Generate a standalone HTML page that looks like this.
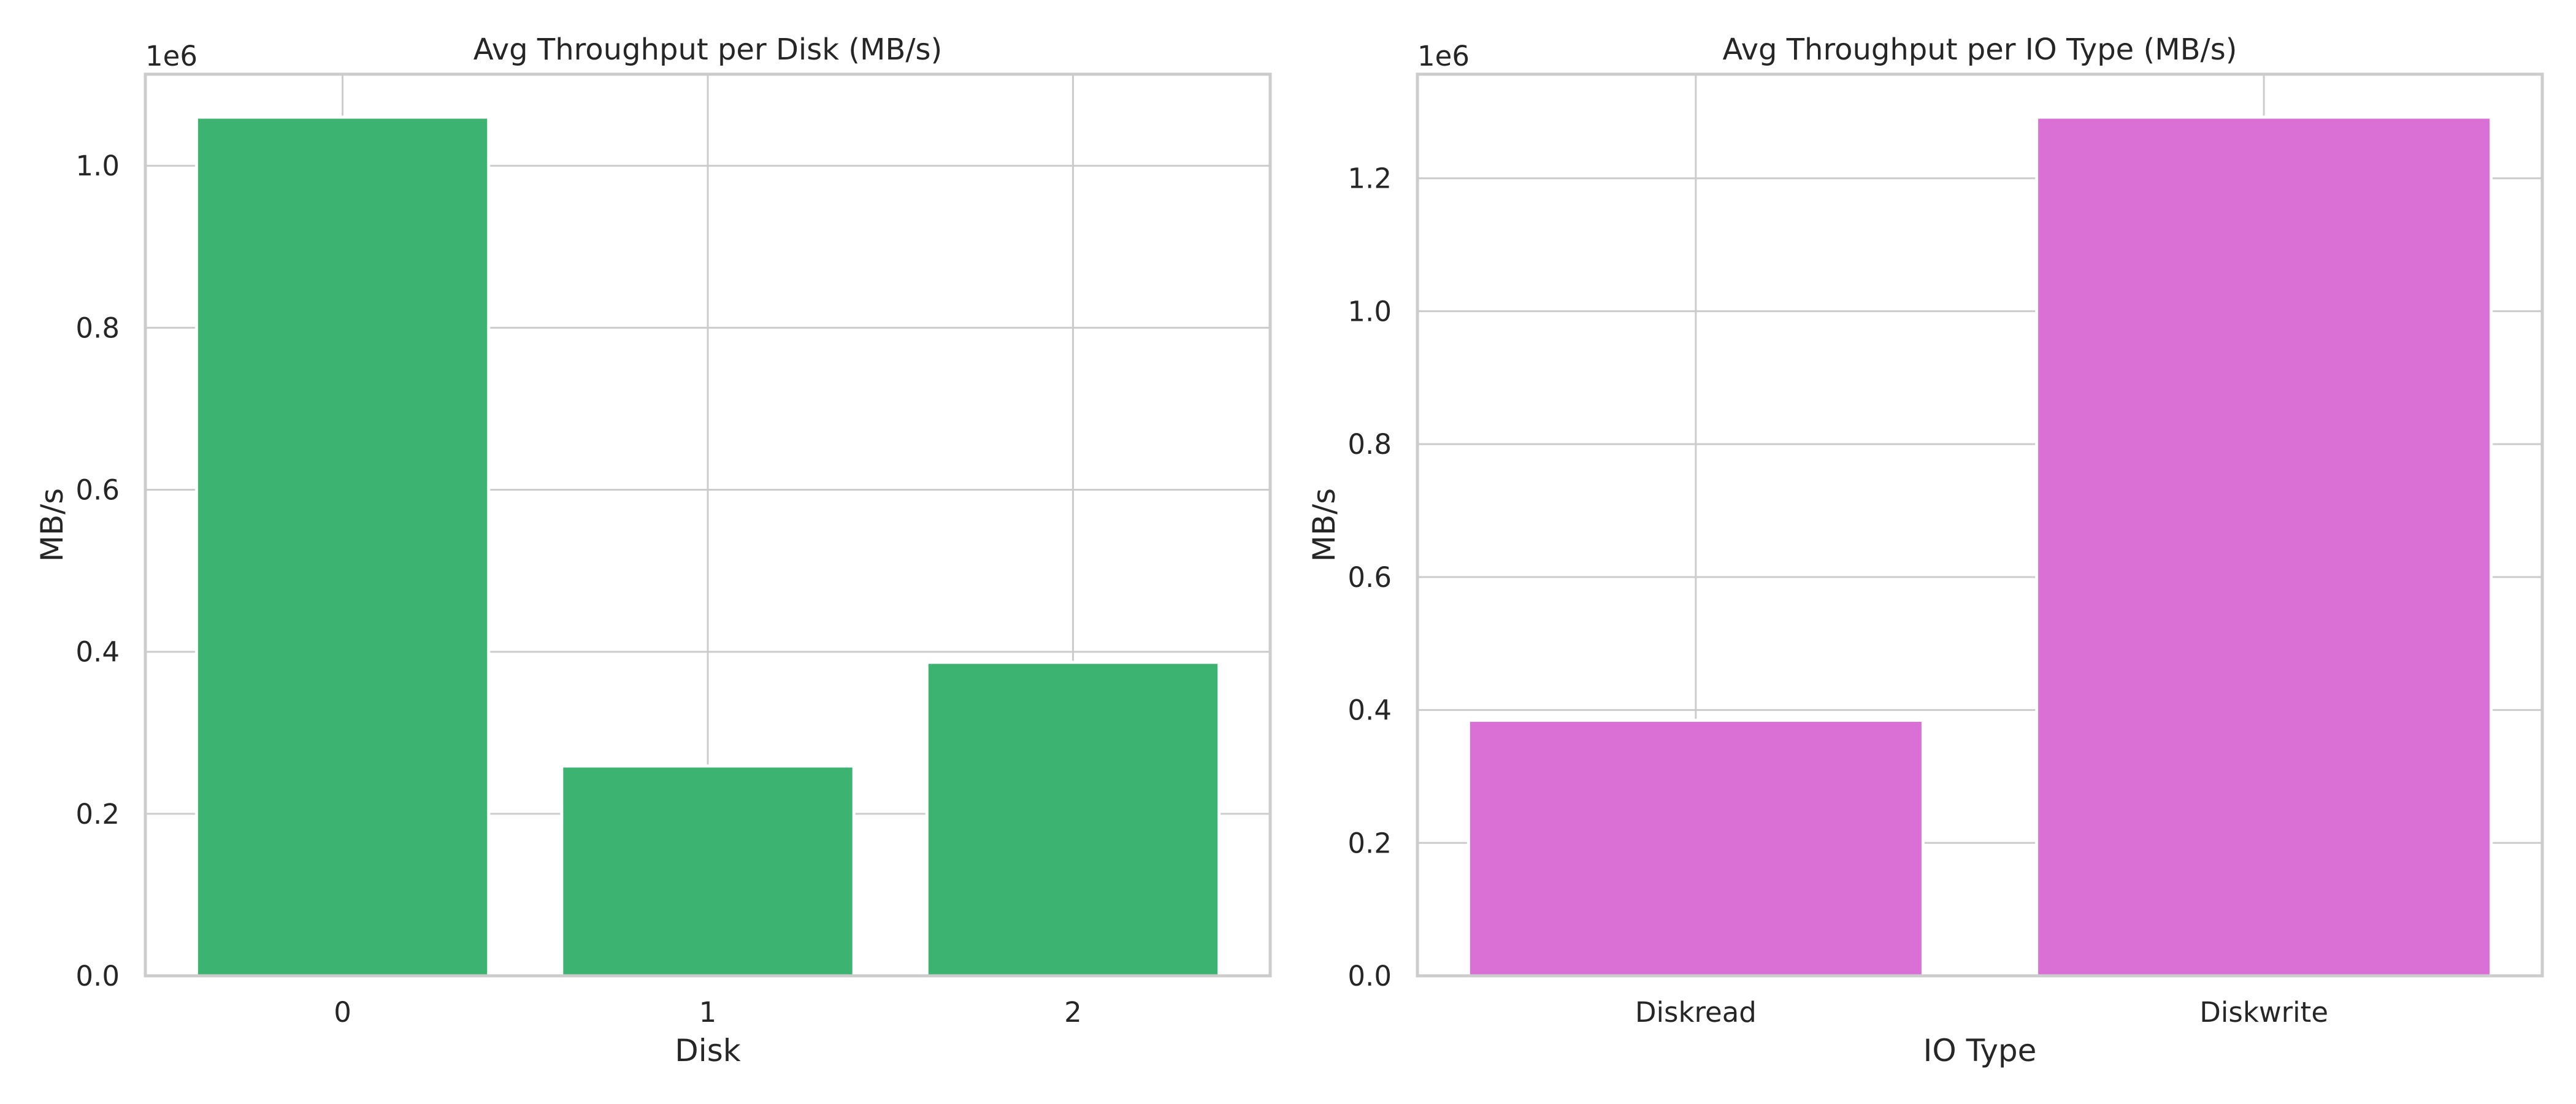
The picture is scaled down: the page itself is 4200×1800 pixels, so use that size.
<!DOCTYPE html>
<html><head><meta charset="utf-8"><style>
html,body{margin:0;padding:0;background:#fff}
svg{display:block}
text{font-family:"DejaVu Sans","Liberation Sans",sans-serif;fill:#262626}
</style></head><body>
<svg id="fig" width="4200" height="1800" viewBox="0 0 4200 1800" xmlns="http://www.w3.org/2000/svg"></svg>
<script>
const diskCategories = ["0","1","2"];
const diskValues = [1.06e6, 0.259e6, 0.387e6];
const diskTicks = [0,0.2,0.4,0.6,0.8,1.0];
const ioCategories = ["Diskread","Diskwrite"];
const ioValues = [0.3845e6, 1.292e6];
const ioTicks = [0,0.2,0.4,0.6,0.8,1.0,1.2];

const NS="http://www.w3.org/2000/svg";
const svg=document.getElementById('fig');
function mk(tag,attrs,parent){const e=document.createElementNS(NS,tag);for(const k in attrs)e.setAttribute(k,attrs[k]);(parent||svg).appendChild(e);return e;}

function panel(cfg){
  const g=mk('g',{});
  
  
  const L=cfg.left,R=cfg.left+1834,T=121,B=1591;
  const n=cfg.cats.length;
  const xmin=-0.4-0.05*(n-1+0.8), xmax=n-1+0.4+0.05*(n-1+0.8);
  const ymax=Math.max(...cfg.vals)*1.05;
  const xs=v=>L+(v-xmin)/(xmax-xmin)*(R-L);
  const ys=v=>B-v/ymax*(B-T);
  cfg.ticks.forEach(t=>{
    const y=ys(t*1e6);
    const gl=mk('line',{x1:L,x2:R,y1:y,y2:y,stroke:'#cccccc','stroke-width':3},g);
    
    
    const tl=mk('text',{x:L-42,y:y+16,'text-anchor':'end','font-size':45},g);
    tl.textContent=t.toFixed(1);
    
    
  });
  cfg.cats.forEach((c,i)=>{
    const x=xs(i);
    const gl=mk('line',{x1:x,x2:x,y1:T,y2:B,stroke:'#cccccc','stroke-width':3},g);
    
    
    const tl=mk('text',{x:x,y:1666,'text-anchor':'middle','font-size':45},g);
    tl.textContent=c;
    
    
  });
  cfg.vals.forEach((v,i)=>{
    const x0=xs(i-0.4),x1=xs(i+0.4);
    const r=mk('rect',{x:x0,y:ys(v),width:x1-x0,height:B-ys(v),fill:cfg.color,stroke:'#ffffff','stroke-width':5},g);
    
    
  });
  const fr=mk('rect',{x:L,y:T,width:R-L,height:B-T,fill:'none',stroke:'#cccccc','stroke-width':5},g);
  
  
  const off=mk('text',{x:L,y:107,'font-size':45},g);
  off.textContent='1e6';
  
  
  const ti=mk('text',{x:(L+R)/2,y:97,'text-anchor':'middle','font-size':48},g);
  ti.textContent=cfg.title;
  
  
  const xl=mk('text',{x:(L+R)/2,y:1730,'text-anchor':'middle','font-size':50},g);
  xl.textContent=cfg.xlabel;
  
  
  const yx=cfg.left-135;
  const yl=mk('text',{x:yx,y:(T+B)/2,'text-anchor':'middle','font-size':50,transform:`rotate(-90 ${yx} ${(T+B)/2})`},g);
  yl.textContent='MB/s';
  
  
}
panel({name:'disk-chart',left:237,cats:diskCategories,vals:diskValues,ticks:diskTicks,color:'#3cb371',title:'Avg Throughput per Disk (MB/s)',xlabel:'Disk'});
panel({name:'io-type-chart',left:2311,cats:ioCategories,vals:ioValues,ticks:ioTicks,color:'#da70d6',title:'Avg Throughput per IO Type (MB/s)',xlabel:'IO Type'});
</script>
</body></html>
